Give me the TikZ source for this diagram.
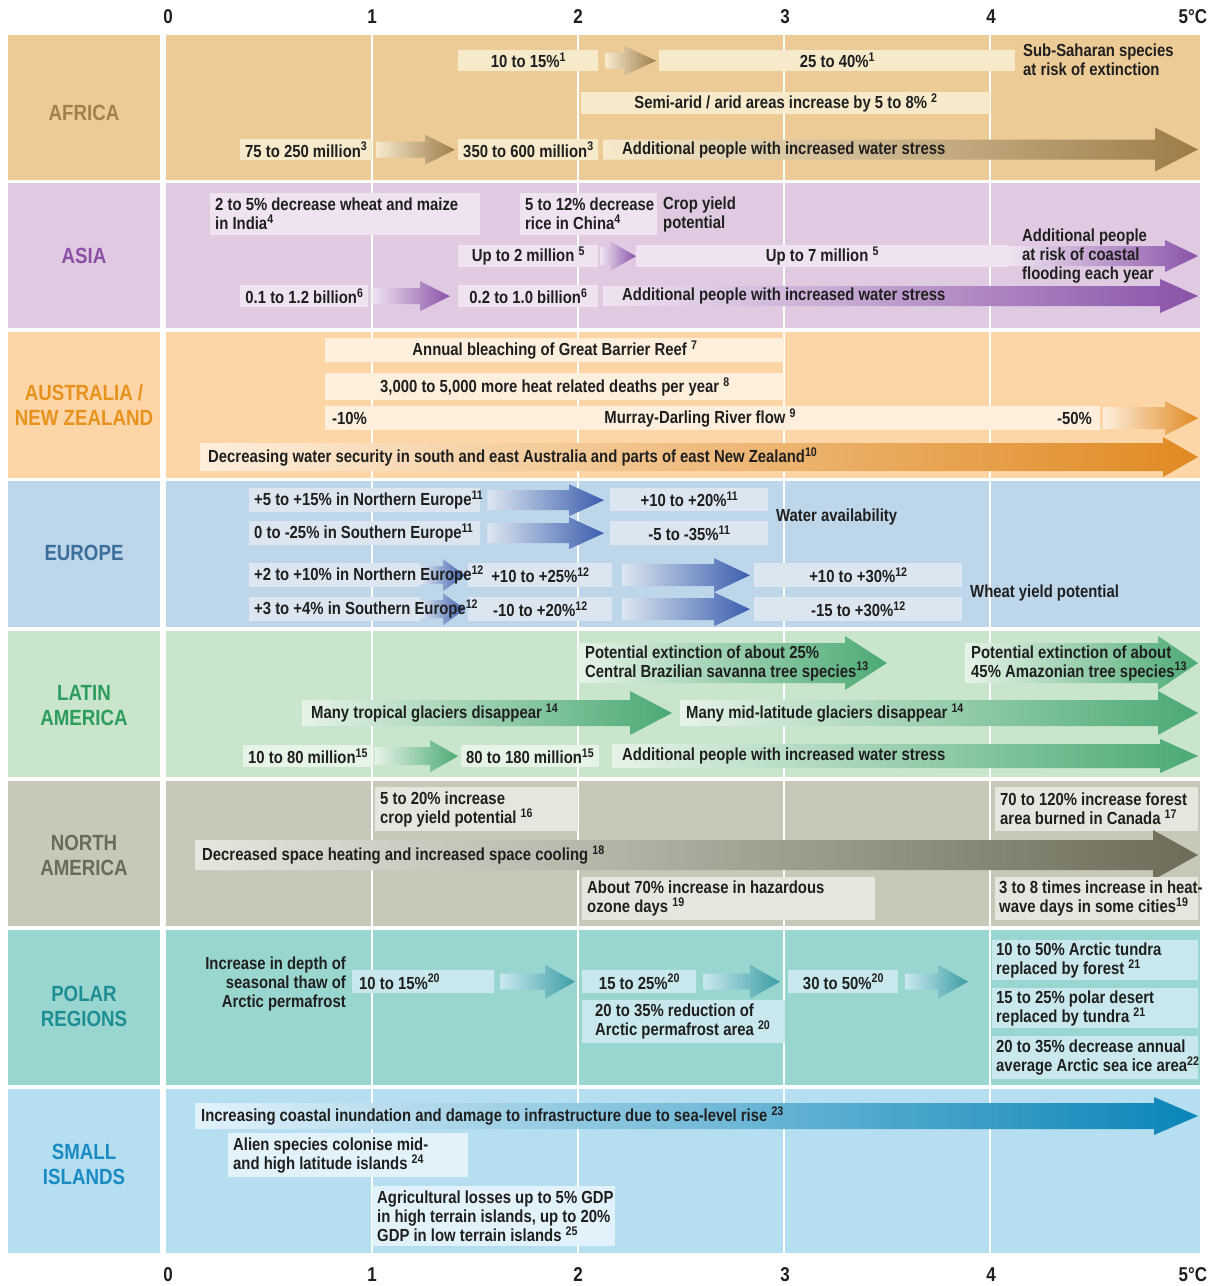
\documentclass[tikz,border=0pt]{standalone}
\usepackage{fontspec}
\setmainfont{Liberation Sans}[FakeStretch=0.85]
\usetikzlibrary{calc}

\definecolor{afrbg}{HTML}{EDCB96}\definecolor{afrbx}{HTML}{F6EACB}\definecolor{afrdk}{HTML}{9E7C4A}\definecolor{afrtx}{HTML}{A4804C}
\definecolor{asibg}{HTML}{DFCAE2}\definecolor{asibx}{HTML}{EFE3F1}\definecolor{asidk}{HTML}{8A52A8}\definecolor{asitx}{HTML}{8E4FA6}
\definecolor{ausbg}{HTML}{FDD5A6}\definecolor{ausbx}{HTML}{FEEEDC}\definecolor{ausdk}{HTML}{E08A22}\definecolor{austx}{HTML}{E8921E}
\definecolor{eurbg}{HTML}{BED6EA}\definecolor{eurbx}{HTML}{DCE6F0}\definecolor{eurdk}{HTML}{3A5DAE}\definecolor{eurtx}{HTML}{3B6E9A}
\definecolor{latbg}{HTML}{C9E5CB}\definecolor{latbx}{HTML}{E6F3E7}\definecolor{latdk}{HTML}{4BAA74}\definecolor{lattx}{HTML}{2E9C5C}
\definecolor{nambg}{HTML}{C8C8B9}\definecolor{nambx}{HTML}{E6E6DE}\definecolor{namdk}{HTML}{6C6C58}\definecolor{namtx}{HTML}{6B6B5B}
\definecolor{polbg}{HTML}{9AD6D0}\definecolor{polbx}{HTML}{C8E8EE}\definecolor{poldk}{HTML}{3B9DA5}\definecolor{poltx}{HTML}{1E8E95}
\definecolor{islbg}{HTML}{B5DEF1}\definecolor{islbx}{HTML}{E2F2FA}\definecolor{isldk}{HTML}{0A85B8}\definecolor{isltx}{HTML}{1A8AC3}

\newcommand{\refn}[1]{\raisebox{0.35em}{\fontsize{12.5}{12.5}\selectfont #1}}
% 渐变箭头: 深色, 浅色, 起点, 终点, 箭身半高, 箭头半高, 箭头长
\newcommand{\garrow}[7]{%
  \shade[left color=#2, right color=#1] let \p1=#3, \p2=#4 in
    (\x1,\y1-#5) -- (\x2-#7,\y1-#5) -- (\x2-#7,\y1-#6) -- (\x2,\y1)
    -- (\x2-#7,\y1+#6) -- (\x2-#7,\y1+#5) -- (\x1,\y1+#5) -- cycle;}
% 左对齐文字框: [左边距], 名称, 颜色, x, y, 宽, 高, 文字
\newcommand{\lbox}[8][5]{%
  \node[box=#3, minimum width=#6pt, minimum height=#7pt] (#2) at (#4,#5) {};
  \node[txt, anchor=west, align=left] (#2t) at ([xshift=#1pt]#2.west) {#8};}

\tikzset{
  txt/.style={font=\bfseries\fontsize{17.5}{19}\selectfont, text=black!88, inner sep=0pt},
  box/.style={txt, fill=#1, anchor=north west, inner xsep=5pt, inner ysep=0pt},
  region/.style={font=\bfseries\fontsize{22}{25}\selectfont, text=#1, align=center},
  tick/.style={font=\bfseries\fontsize{20}{20}\selectfont, text=black!88},
}

\begin{document}
\begin{tikzpicture}[x=1pt,y=-1pt]
\fill[white] (0,0) rectangle (1214,1286);     %背景
\foreach \c/\t/\b in {afrbg/35/180,asibg/183/328,ausbg/332/478,eurbg/481/627,latbg/631/777,nambg/781/926,polbg/930/1085,islbg/1089/1253}
  {\fill[\c] (8,\t) rectangle (160,\b); \fill[\c] (166,\t) rectangle (1200,\b);}     %各区域底色
\foreach \x in {372,578,784,990}
  \draw[white, line width=1.2pt] (\x,35) -- (\x,1253);     %温度刻度线
\foreach \t/\x in {0/168,1/372,2/578,3/785,4/991}
  {\node[tick] (top\t) at (\x,17) {\t}; \node[tick] (bot\t) at (\x,1275) {\t};}
\node[tick] (top5) at (1193,17) {5°C};
\node[tick] (bot5) at (1193,1275) {5°C};

% 区域名称
\node[region=afrtx] (rafr) at (84,113) {AFRICA};
\node[region=asitx] (rasi) at (84,256) {ASIA};
\node[region=austx] (raus) at (84,405) {AUSTRALIA /\\NEW ZEALAND};
\node[region=eurtx] (reur) at (84,553) {EUROPE};
\node[region=lattx] (rlat) at (84,706) {LATIN\\AMERICA};
\node[region=namtx] (rnam) at (84,855) {NORTH\\AMERICA};
\node[region=poltx] (rpol) at (84,1006) {POLAR\\REGIONS};
\node[region=isltx] (risl) at (84,1164) {SMALL\\ISLANDS};

% 非洲
\node[box=afrbx, minimum width=140pt, minimum height=21pt] (afr1) at (458,50) {10 to 15\%\refn{1}};
\node[box=afrbx, minimum width=356pt, minimum height=21pt] (afr2) at (659,50) {25 to 40\%\refn{1}};
\garrow{afrdk}{afrbx}{([xshift=7pt]afr1.east)}{([xshift=-3pt]afr2.west)}{8}{15}{32}
\node[txt, anchor=west, align=left] (afr3) at (1023,60) {Sub-Saharan species\\at risk of extinction};
\node[box=afrbx, minimum width=409pt, minimum height=22pt] (afr4) at (581,92) {Semi-arid / arid areas increase by 5 to 8\% \refn{2}};
\node[box=afrbx, minimum width=128pt, minimum height=21pt] (afr5) at (240,139) {75 to 250 million\refn{3}};
\node[box=afrbx, minimum width=140pt, minimum height=21pt] (afr6) at (458,139) {350 to 600 million\refn{3}};
\garrow{afrdk}{afrbx}{([xshift=4pt]afr5.east)}{([xshift=-3pt]afr6.west)}{8}{15}{30}
\coordinate (afr7s) at (603,149.5);
\coordinate (afr7e) at (1198,149.5);
\garrow{afrdk}{afrbx}{(afr7s)}{(afr7e)}{10}{22}{43}
\node[txt, anchor=west] (afr7) at (622,149.5) {Additional people with increased water stress};

% 亚洲
\lbox{asi1}{asibx}{210}{193}{270}{42}{2 to 5\% decrease wheat and maize\\in India\refn{4}}
\lbox{asi2}{asibx}{520}{193}{137}{42}{5 to 12\% decrease\\rice in China\refn{4}}
\node[txt, anchor=west, align=left] (asi3) at (663,214) {Crop yield\\potential};
\node[box=asibx, minimum width=140pt, minimum height=22pt] (asi4) at (458,245) {Up to 2 million \refn{5}};
\node[box=asibx, minimum width=372pt, minimum height=22pt] (asi5) at (636,245) {Up to 7 million \refn{5}};
\garrow{asidk}{asibx}{([xshift=2pt]asi4.east)}{(asi5.west)}{9}{15}{26}
\coordinate (asi6s) at (1008,256);
\coordinate (asi6e) at (1198,256);
\garrow{asidk}{asibx}{(asi6s)}{(asi6e)}{10}{16}{33}
\node[txt, anchor=west, align=left] (asi6) at (1022,256.5) {Additional people\\at risk of coastal\\flooding each year};
\node[box=asibx, minimum width=128pt, minimum height=22pt] (asi7) at (240,285) {0.1 to 1.2 billion\refn{6}};
\node[box=asibx, minimum width=140pt, minimum height=22pt] (asi8) at (458,285) {0.2 to 1.0 billion\refn{6}};
\garrow{asidk}{asibx}{([xshift=4pt]asi7.east)}{([xshift=-8pt]asi8.west)}{8}{15}{30}
\coordinate (asi9s) at (603,296);
\coordinate (asi9e) at (1198,296);
\garrow{asidk}{asibx}{(asi9s)}{(asi9e)}{10}{17}{38}
\node[txt, anchor=west] (asi9) at (622,296) {Additional people with increased water stress};

% 澳大利亚/新西兰
\node[box=ausbx, minimum width=459pt, minimum height=24pt] (aus1) at (325,338) {Annual bleaching of Great Barrier Reef \refn{7}};
\node[box=ausbx, minimum width=459pt, minimum height=27pt] (aus2) at (325,373) {3,000 to 5,000 more heat related deaths per year \refn{8}};
\node[box=ausbx, minimum width=775pt, minimum height=24pt] (aus3) at (325,406) {};
\node[txt, anchor=west] (aus3a) at (332,418) {-10\%};
\node[txt] (aus3b) at (700,418) {Murray-Darling River flow \refn{9}};
\node[txt, anchor=east] (aus3c) at (1092,418) {-50\%};
\coordinate (aus4e) at (1198,418);
\garrow{ausdk}{ausbx}{([xshift=3pt]aus3.east)}{(aus4e)}{11}{17}{33}
\coordinate (aus5s) at (200,457);
\coordinate (aus5e) at (1198,457);
\garrow{ausdk}{ausbx}{(aus5s)}{(aus5e)}{14}{20}{35}
\node[txt, anchor=west] (aus5) at (208,457) {Decreasing water security in south and east Australia and parts of east New Zealand\refn{10}};

% 欧洲
\lbox{eur1}{eurbx}{249}{488}{231}{24}{+5 to +15\% in Northern Europe\refn{11}}
\node[box=eurbx, minimum width=158pt, minimum height=23pt] (eur2) at (610,488) {+10 to +20\%\refn{11}};
\lbox{eur3}{eurbx}{249}{521}{231}{24}{0 to -25\% in Southern Europe\refn{11}}
\node[box=eurbx, minimum width=158pt, minimum height=24pt] (eur4) at (610,521) {-5 to -35\%\refn{11}};
\garrow{eurdk}{eurbx}{([xshift=7pt]eur1.east)}{([xshift=-6pt]eur2.west)}{10}{16}{35}
\garrow{eurdk}{eurbx}{([xshift=7pt]eur3.east)}{([xshift=-6pt]eur4.west)}{10}{16}{35}
\node[txt, anchor=west] (eur5) at (776,517) {Water availability};
\node[box=eurbx, minimum width=171pt, minimum height=24pt] (eur6) at (249,563) {};
\coordinate (eur7e) at (465,575);
\garrow{eurdk}{eurbx}{(eur6.east)}{(eur7e)}{9}{16}{22}
\node[box=eurbx, minimum width=144pt, minimum height=24pt] (eur8) at (468,563) {+10 to +25\%\refn{12}};
\node[txt, anchor=west] (eur7) at (254,575) {+2 to +10\% in Northern Europe\refn{12}};
\node[box=eurbx, minimum width=208pt, minimum height=24pt] (eur9) at (754,563) {+10 to +30\%\refn{12}};
\garrow{eurdk}{eurbx}{([xshift=10pt]eur8.east)}{([xshift=-4pt]eur9.west)}{11}{17}{36}
\node[box=eurbx, minimum width=171pt, minimum height=24pt] (eur10) at (249,597) {};
\coordinate (eur11e) at (465,609);
\garrow{eurdk}{eurbx}{(eur10.east)}{(eur11e)}{9}{16}{22}
\node[box=eurbx, minimum width=144pt, minimum height=24pt] (eur12) at (468,597) {-10 to +20\%\refn{12}};
\node[txt, anchor=west] (eur11) at (254,609) {+3 to +4\% in Southern Europe\refn{12}};
\node[box=eurbx, minimum width=208pt, minimum height=24pt] (eur13) at (754,597) {-15 to +30\%\refn{12}};
\garrow{eurdk}{eurbx}{([xshift=10pt]eur12.east)}{([xshift=-4pt]eur13.west)}{11}{17}{36}
\node[txt, anchor=west] (eur14) at (970,593) {Wheat yield potential};

% 拉丁美洲
\coordinate (lat1s) at (578,663);
\coordinate (lat1e) at (887,663);
\garrow{latdk}{latbx}{(lat1s)}{(lat1e)}{20}{27}{42}
\node[txt, anchor=west, align=left] (lat1) at (585,663) {Potential extinction of about 25\%\\Central Brazilian savanna tree species\refn{13}};
\coordinate (lat2s) at (965,663);
\coordinate (lat2e) at (1198,663);
\garrow{latdk}{latbx}{(lat2s)}{(lat2e)}{20}{27}{40}
\node[txt, anchor=west, align=left] (lat2) at (971,663) {Potential extinction of about\\45\% Amazonian tree species\refn{13}};
\coordinate (lat3s) at (302,713);
\coordinate (lat3e) at (672,713);
\garrow{latdk}{latbx}{(lat3s)}{(lat3e)}{13}{22}{42}
\node[txt, anchor=west] (lat3) at (311,713) {Many tropical glaciers disappear \refn{14}};
\coordinate (lat4s) at (680,713);
\coordinate (lat4e) at (1198,713);
\garrow{latdk}{latbx}{(lat4s)}{(lat4e)}{13}{22}{40}
\node[txt, anchor=west] (lat4) at (686,713) {Many mid-latitude glaciers disappear \refn{14}};
\node[box=latbx, minimum width=127pt, minimum height=22pt] (lat5) at (243,745) {10 to 80 million\refn{15}};
\node[box=latbx, minimum width=137pt, minimum height=22pt] (lat6) at (461,745) {80 to 180 million\refn{15}};
\garrow{latdk}{latbx}{([xshift=2pt]lat5.east)}{([xshift=-3pt]lat6.west)}{9}{16}{28}
\coordinate (lat7s) at (612,756);
\coordinate (lat7e) at (1198,756);
\garrow{latdk}{latbx}{(lat7s)}{(lat7e)}{12}{17}{38}
\node[txt, anchor=west] (lat7) at (622,756) {Additional people with increased water stress};

% 北美洲
\lbox{nam1}{nambx}{375}{787}{203}{44}{5 to 20\% increase\\crop yield potential \refn{16}}
\lbox[5]{nam2}{nambx}{995}{787}{203}{44}{70 to 120\% increase forest\\area burned in Canada \refn{17}}
\coordinate (nam3s) at (195,855);
\coordinate (nam3e) at (1198,855);
\garrow{namdk}{nambx}{(nam3s)}{(nam3e)}{15}{25}{45}
\node[txt, anchor=west] (nam3) at (202,855) {Decreased space heating and increased space cooling \refn{18}};
\lbox{nam4}{nambx}{582}{877}{293}{43}{About 70\% increase in hazardous\\ozone days \refn{19}}
\lbox[4]{nam5}{nambx}{995}{877}{203}{43}{3 to 8 times increase in heat-\\wave days in some cities\refn{19}}

% 极地
\node[txt, anchor=east, align=right] (pol1) at (346,984) {Increase in depth of\\seasonal thaw of\\Arctic permafrost};
\lbox[7]{pol2}{polbx}{352}{970}{142}{23}{10 to 15\%\refn{20}}
\node[box=polbx, minimum width=114pt, minimum height=23pt] (pol3) at (582,970) {15 to 25\%\refn{20}};
\node[box=polbx, minimum width=110pt, minimum height=23pt] (pol4) at (788,970) {30 to 50\%\refn{20}};
\garrow{poldk}{polbx}{([xshift=6pt]pol2.east)}{([xshift=-7pt]pol3.west)}{8}{17}{30}
\garrow{poldk}{polbx}{([xshift=7pt]pol3.east)}{([xshift=-8pt]pol4.west)}{8}{17}{30}
\coordinate (pol4e) at (968,981.5);
\garrow{poldk}{polbx}{([xshift=7pt]pol4.east)}{(pol4e)}{8}{17}{30}
\lbox[13]{pol5}{polbx}{582}{1000}{203}{43}{20 to 35\% reduction of\\Arctic permafrost area \refn{20}}
\lbox[4]{pol6}{polbx}{992}{940}{206}{40}{10 to 50\% Arctic tundra\\replaced by forest \refn{21}}
\lbox[4]{pol7}{polbx}{992}{988}{206}{40}{15 to 25\% polar desert\\replaced by tundra \refn{21}}
\lbox[4]{pol8}{polbx}{992}{1036}{206}{43}{20 to 35\% decrease annual\\average Arctic sea ice area\refn{22}}

% 小岛屿
\coordinate (isl1s) at (195,1116);
\coordinate (isl1e) at (1198,1116);
\garrow{isldk}{islbx}{(isl1s)}{(isl1e)}{13}{19}{44}
\node[txt, anchor=west] (isl1) at (201,1116) {Increasing coastal inundation and damage to infrastructure due to sea-level rise \refn{23}};
\lbox{isl2}{islbx}{228}{1133}{240}{44}{Alien species colonise mid-\\and high latitude islands \refn{24}}
\lbox{isl3}{islbx}{372}{1186}{243}{60}{Agricultural losses up to 5\% GDP\\in high terrain islands, up to 20\%\\GDP in low terrain islands \refn{25}}
\end{tikzpicture}
\end{document}
